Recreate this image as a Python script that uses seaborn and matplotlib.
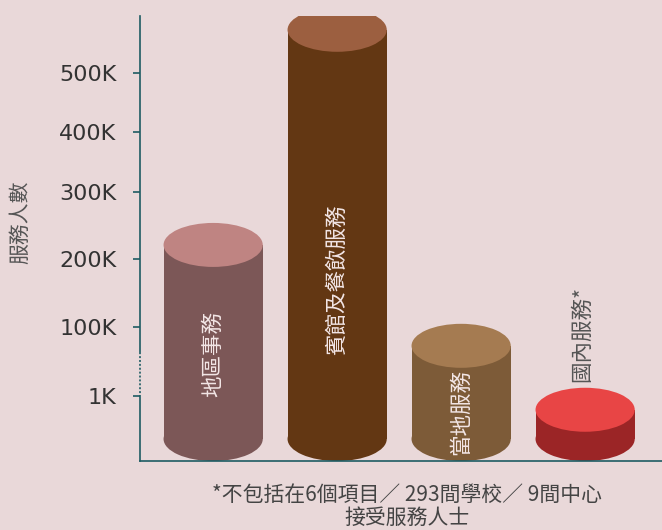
import numpy as np
import seaborn as sns
import matplotlib.pyplot as plt
from matplotlib.patches import Ellipse

# ==========================================
# DATA
# ==========================================
categories = ['地區事務', '賓館及餐飲服務', '當地服務', '國內服務*']
values = [221000, 572000, 73000, 680]
body_colors = ['#7c5757', '#633713', '#7d5b38', '#9b2526']
top_colors = ['#bf8482', '#9c5f40', '#a57b51', '#e84545']

tick_values = [1000, 100000, 200000, 300000, 400000, 500000]
tick_labels = ['1K', '100K', '200K', '300K', '400K', '500K']

footnote = '*不包括在6個項目／ 293間學校／ 9間中心\n接受服務人士'
ylabel = '服務人數'

# the original axis is piecewise (broken at 1K), map values to axis units
scale_vals = [0, 1000, 100000, 200000, 300000, 400000, 500000, 600000]
scale_pos = [0, 43, 112, 180, 247, 307, 366, 426]


def to_axis(v):
    return np.interp(v, scale_vals, scale_pos)


heights = to_axis(values)

# ==========================================
# STYLE
# ==========================================
bg = '#e9d8d9'
spine_col = '#1d5c63'
sns.set_style('white')
plt.rcParams['font.family'] = ['DejaVu Sans', 'Noto Sans CJK TC']
cjk = ['Noto Sans CJK TC', 'DejaVu Sans']

fig = plt.figure(figsize=(6.62, 5.30), dpi=100, facecolor=bg)
ax = fig.add_axes([140 / 662, 69 / 530, 1 - 140 / 662, (461 - 16) / 530])
ax.set_facecolor(bg)

bar_w = 0.8
sns.barplot(x=categories, y=heights, hue=categories, palette=body_colors,
            saturation=1, width=bar_w, linewidth=0, legend=False, ax=ax, zorder=2)

ell_h = 44
for i, h in enumerate(heights):
    ax.add_patch(Ellipse((i, 0), bar_w, ell_h, color=body_colors[i], lw=0, zorder=2))
    ax.add_patch(Ellipse((i, h), bar_w, ell_h, color=top_colors[i], lw=0, zorder=3))

# labels inside the cylinders, last one sits above its short bar
label_frac = [0.44, 0.39, 0.29]
for i, name in enumerate(categories):
    if i < 3:
        ax.text(i, heights[i] * label_frac[i], name, rotation=90, ha='center', va='center',
                color='#f3e6e6', fontsize=15.5, family=cjk, zorder=4)
    else:
        ax.text(i - 0.02, heights[i] + 28, name, rotation=90, ha='center', va='bottom',
                color='#555555', fontsize=15.5, family=cjk, zorder=4)

ax.set_xlim(-0.59, 3.62)
ax.set_ylim(-22, 423)
ax.set_xticks([])
ax.set_xlabel('')
ax.set_yticks(to_axis(tick_values))
ax.set_yticklabels(tick_labels)
ax.tick_params(axis='y', length=5, width=1.2, color=spine_col, labelcolor='#333333',
               labelsize=16, pad=12, left=True)

for side in ['top', 'right']:
    ax.spines[side].set_visible(False)
for side in ['left', 'bottom']:
    ax.spines[side].set_color(spine_col)
    ax.spines[side].set_linewidth(1.2)

# axis break marker near the 1K region
ax.plot([-0.59, -0.59], [44, 86], color=bg, ls=(0, (1, 1)), lw=1.4,
        clip_on=False, zorder=5)

fig.text(20 / 662, 1 - 222 / 530, ylabel, rotation=90, ha='center', va='center',
         fontsize=15, color='#555555', family=cjk)
fig.text(407 / 662, 1 - 506 / 530, footnote, ha='center', va='center',
         fontsize=15, color='#444444', family=cjk, linespacing=1.05)

fig.savefig('out.png', dpi=100, facecolor=bg)
